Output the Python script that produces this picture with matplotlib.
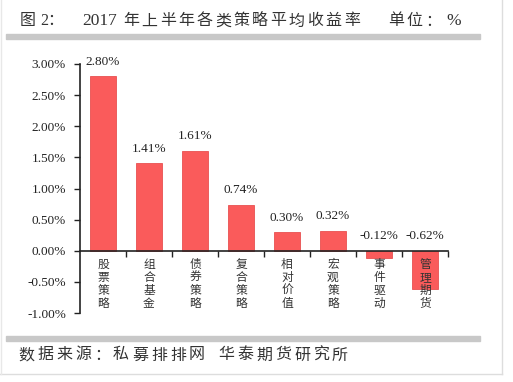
import matplotlib
matplotlib.use("Agg")
import matplotlib.pyplot as plt
from matplotlib.patches import Rectangle
from matplotlib.lines import Line2D
from matplotlib.ticker import FuncFormatter, FixedLocator

categories = ["股票策略", "组合基金", "债券策略", "复合策略", "相对价值", "宏观策略", "事件驱动", "管理期货"]
values = [2.80, 1.41, 1.61, 0.74, 0.30, 0.32, -0.12, -0.62]
yticks = [-1.0, -0.5, 0.0, 0.5, 1.0, 1.5, 2.0, 2.5, 3.0]

CJK = ["Noto Sans CJK SC", "DejaVu Sans"]
SERIF = ["Liberation Serif", "Noto Sans CJK SC"]

W, H = 513, 382
fig = plt.figure(figsize=(W / 100, H / 100), dpi=100)
fig.patch.set_facecolor("white")

ax = fig.add_axes([80 / W, 1 - 313 / H, (448 - 80) / W, (313 - 64) / H])
x = list(range(len(categories)))
ax.bar(x, values, width=0.565, color="#FA5B5B", edgecolor="#E85050", linewidth=0.6, zorder=2)

ax.set_xlim(-0.5, len(categories) - 0.5)
ax.set_ylim(-1.0, 3.0)
ax.set_yticks(yticks)
ax.yaxis.set_major_formatter(FuncFormatter(lambda v, p: f"{v:.2f}%"))
for lab in ax.get_yticklabels():
    lab.set_fontfamily(SERIF)
    lab.set_fontsize(9.5)
    lab.set_color("#222222")
ax.tick_params(axis="y", direction="out", length=4, width=1, pad=6, colors="#222222")

ax.set_xticks([])
ax.xaxis.set_minor_locator(FixedLocator([i + 0.5 for i in range(len(categories))]))
ax.tick_params(axis="x", which="minor", direction="out", length=4, width=1, colors="#222222")
ax.tick_params(axis="x", which="major", length=0)

for s in ["top", "right"]:
    ax.spines[s].set_visible(False)
ax.spines["left"].set_linewidth(1.2)
ax.spines["left"].set_color("#222222")
ax.spines["bottom"].set_position(("data", 0))
ax.spines["bottom"].set_linewidth(1.2)
ax.spines["bottom"].set_color("#222222")
ax.set_facecolor("white")

for i, v in enumerate(values):
    ax.annotate(f"{v:.2f}%", xy=(i, max(v, 0)), xytext=(0, 6), textcoords="offset points",
                ha="center", va="bottom", fontsize=9.5, family=SERIF, color="#222222")
    for k, ch in enumerate(categories[i]):
        ax.annotate(ch, xy=(i, 0), xytext=(0, -5 - k * 9.4), textcoords="offset points",
                    ha="center", va="top", fontsize=8.5, family=CJK, color="#333333")


def spaced(text, x0, ycen, pitch, size=11.5, family=CJK):
    for k, ch in enumerate(text):
        fig.text((x0 + k * pitch) / W, 1 - ycen / H, ch, ha="left", va="center",
                 fontsize=size, family=family, color="#333333")


# title
fig.text(20 / W, 1 - 21 / H, "图", ha="left", va="center", fontsize=11.5, family=CJK, color="#333333")
fig.text(40 / W, 1 - 21 / H, "2：", ha="left", va="center", fontsize=11.5, family=SERIF, color="#333333")
fig.text(82 / W, 1 - 21 / H, "2017", ha="left", va="center", fontsize=12.5, family=SERIF, color="#333333")
spaced("年上半年各类策略平均收益率", 123, 21, 18.4)
spaced("单位：", 388, 21, 18.4)
fig.text(446 / W, 1 - 21 / H, "%", ha="left", va="center", fontsize=12.5, family=SERIF, color="#333333")

# source
spaced("数据来源：", 18, 355, 19)
spaced("私募排排网", 113, 355, 19)
spaced("华泰期货研究所", 218, 355, 19)

# gray separator bars
fig.patches.append(Rectangle((6 / W, 1 - 39 / H), (480 - 6) / W, 5 / H,
                             transform=fig.transFigure, color="#C8C8C8", zorder=0))
fig.patches.append(Rectangle((6 / W, 1 - 341 / H), (480 - 6) / W, 5 / H,
                             transform=fig.transFigure, color="#C8C8C8", zorder=0))
# frame lines
fig.lines.append(Line2D([502 / W, 502 / W], [1 - 374 / H, 1.0], transform=fig.transFigure,
                        color="#DDDDDD", linewidth=1))
fig.lines.append(Line2D([0, 502 / W], [1 - 374 / H, 1 - 374 / H], transform=fig.transFigure,
                        color="#DDDDDD", linewidth=1))
fig.lines.append(Line2D([1 / W, 1 / W], [1 - 374 / H, 1.0], transform=fig.transFigure,
                        color="#E8E8E8", linewidth=1))

fig.savefig("out.png", dpi=100, facecolor="white")
